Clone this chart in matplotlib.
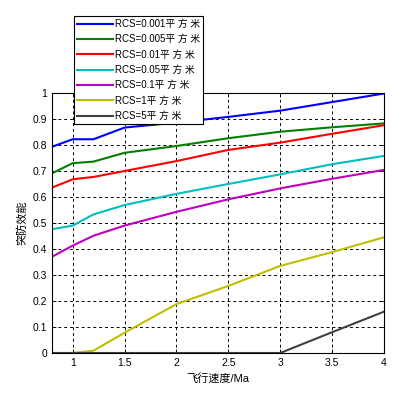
import numpy as np
import matplotlib
matplotlib.use('Agg')
import matplotlib.pyplot as plt

plt.rcParams['font.family'] = ['Liberation Sans', 'Noto Sans CJK SC']

# Dane
mach = [0.8, 1.0, 1.2, 1.5, 2.0, 2.5, 3.0, 3.5, 4.0]
rcs_0001 = [0.793, 0.822, 0.822, 0.867, 0.886, 0.908, 0.932, 0.965, 0.998]
rcs_0005 = [0.691, 0.730, 0.736, 0.770, 0.796, 0.826, 0.851, 0.868, 0.883]
rcs_001 = [0.636, 0.668, 0.677, 0.700, 0.738, 0.781, 0.809, 0.843, 0.876]
rcs_005 = [0.476, 0.490, 0.533, 0.569, 0.612, 0.650, 0.687, 0.726, 0.758]
rcs_01 = [0.370, 0.413, 0.451, 0.490, 0.543, 0.591, 0.633, 0.670, 0.704]
rcs_1 = [0.0, 0.0, 0.009, 0.078, 0.188, 0.258, 0.335, 0.388, 0.445]
rcs_5 = [0.0, 0.0, 0.0, 0.0, 0.0, 0.0, 0.0, 0.080, 0.159]

serie = [
    ("RCS=0.001平 方 米", rcs_0001, (0, 0, 1)),
    ("RCS=0.005平 方 米", rcs_0005, (0, 0.5, 0)),
    ("RCS=0.01平 方 米", rcs_001, (1, 0, 0)),
    ("RCS=0.05平 方 米", rcs_005, (0, 0.75, 0.75)),
    ("RCS=0.1平 方 米", rcs_01, (0.75, 0, 0.75)),
    ("RCS=1平 方 米", rcs_1, (0.75, 0.75, 0)),
    ("RCS=5平 方 米", rcs_5, (0.25, 0.25, 0.25)),
]

fig = plt.figure(figsize=(4.19, 3.99), dpi=100)
ax = fig.add_axes([0.124, 0.1153, 0.7925, 0.6517])

for nazwa, y, kolor in serie:
    ax.plot(mach, y, color=kolor, lw=1.5, label=nazwa)

ax.set_xlim(0.8, 4)
ax.set_ylim(0, 1)
ax.set_xticks([1, 1.5, 2, 2.5, 3, 3.5, 4])
ax.set_xticklabels(['1', '1.5', '2', '2.5', '3', '3.5', '4'])
ax.set_yticks(np.arange(0, 1.01, 0.1))
ax.set_yticklabels(['0', '0.1', '0.2', '0.3', '0.4', '0.5', '0.6', '0.7', '0.8', '0.9', '1'])
ax.tick_params(direction='in', top=True, right=True, labelsize=7.5, length=3, width=0.6)
ax.grid(True, linestyle=(0, (3, 3)), color='black', linewidth=0.7)
for s in ax.spines.values():
    s.set_linewidth(0.8)

ax.set_xlabel('飞行速度/Ma', fontsize=8)
ax.set_ylabel('突防效能', fontsize=8)

leg = ax.legend(loc='upper left', bbox_to_anchor=(74 / 419, 1 - 16 / 399),
                bbox_transform=fig.transFigure, fontsize=7, frameon=True,
                fancybox=False, handlelength=3.7, handletextpad=0.2,
                labelspacing=0.55, borderpad=0.3, borderaxespad=0)
leg.get_frame().set_edgecolor('black')
leg.get_frame().set_linewidth(0.8)
leg.get_frame().set_alpha(1)
leg.set_zorder(10)

fig.savefig('out.png', dpi=100)
